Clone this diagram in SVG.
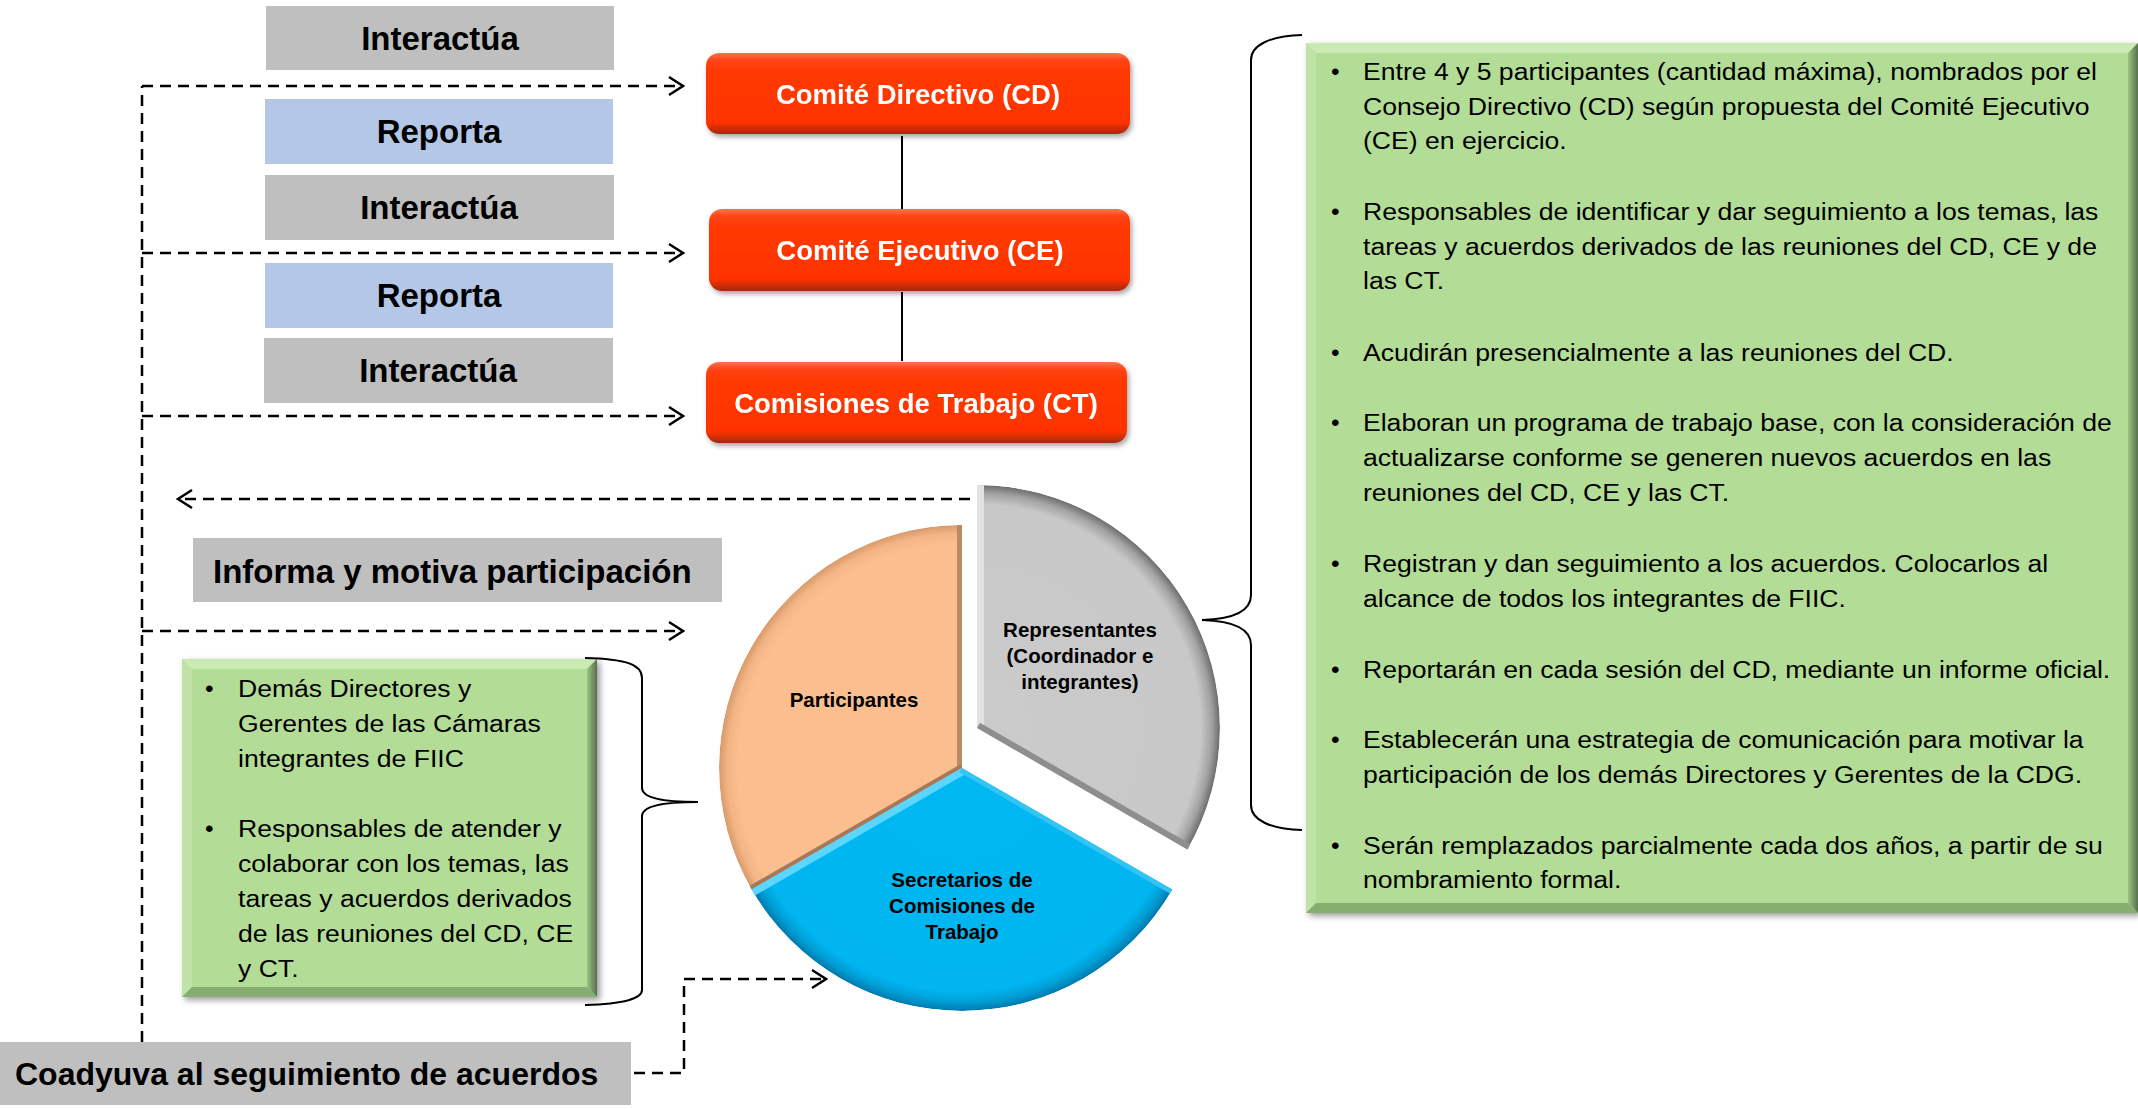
<svg xmlns="http://www.w3.org/2000/svg" width="2138" height="1109" viewBox="0 0 2138 1109">
<defs>
<style>
.lbl{font-family:"Liberation Sans",Arial,sans-serif;font-weight:bold;font-size:33px;fill:#000;text-anchor:middle}
.lbls{font-family:"Liberation Sans",Arial,sans-serif;font-weight:bold;font-size:33px;fill:#000}
.gray{fill:#BFBFBF}
.blue{fill:#B4C7E7}
.redt{font-family:"Liberation Sans",Arial,sans-serif;font-weight:bold;font-size:27.5px;fill:#fff;text-anchor:middle}
.body{font-family:"Liberation Sans",Arial,sans-serif;font-size:24.5px;fill:#000}
.piet{font-family:"Liberation Sans",Arial,sans-serif;font-weight:bold;font-size:20.5px;fill:#000;text-anchor:middle}
.dash{fill:none;stroke:#000;stroke-width:2.5;stroke-dasharray:11 7}
.solid{fill:none;stroke:#000;stroke-width:2}
.brace{fill:none;stroke:#000;stroke-width:2}
.gbase{fill:#B3DC97}
.gtop{fill:#CBEBB5}
.gleft{fill:#BFE3A7}
.gbot{fill:#86AE70}
</style>
<marker id="chev" markerUnits="userSpaceOnUse" viewBox="0 0 18 22" refX="16" refY="11" markerWidth="18" markerHeight="22" orient="auto">
<path d="M2,2 L16,11 L2,20" fill="none" stroke="#000" stroke-width="2.5"/>
</marker>
<linearGradient id="redg" x1="0" y1="0" x2="0" y2="1">
<stop offset="0" stop-color="#FF7350"/>
<stop offset="0.09" stop-color="#FF4415"/>
<stop offset="0.2" stop-color="#FF3A06"/>
<stop offset="0.85" stop-color="#FF3300"/>
<stop offset="0.93" stop-color="#D42C06"/>
<stop offset="1" stop-color="#A0290F"/>
</linearGradient>
<linearGradient id="gright" x1="0" y1="0" x2="1" y2="0">
<stop offset="0" stop-color="#9BC483"/>
<stop offset="1" stop-color="#5A6E4E"/>
</linearGradient>
<filter id="sh" x="-5%" y="-10%" width="112%" height="130%">
<feDropShadow dx="2" dy="3" stdDeviation="2.5" flood-color="#000" flood-opacity="0.35"/>
</filter>
<filter id="gsh" x="-5%" y="-5%" width="112%" height="112%">
<feDropShadow dx="3" dy="3" stdDeviation="3" flood-color="#000" flood-opacity="0.4"/>
</filter>
<radialGradient id="rgO" gradientUnits="userSpaceOnUse" cx="962" cy="768" r="243">
<stop offset="0" stop-color="#FBBF8F"/>
<stop offset="0.92" stop-color="#FBBE8E"/>
<stop offset="0.965" stop-color="#F3B585"/>
<stop offset="1" stop-color="#D9996A"/>
</radialGradient>
<radialGradient id="rgB" gradientUnits="userSpaceOnUse" cx="962" cy="768" r="243">
<stop offset="0" stop-color="#00B8F2"/>
<stop offset="0.92" stop-color="#00B5F0"/>
<stop offset="0.965" stop-color="#009DD4"/>
<stop offset="1" stop-color="#0079AD"/>
</radialGradient>
<radialGradient id="rgG" gradientUnits="userSpaceOnUse" cx="977" cy="728" r="243">
<stop offset="0" stop-color="#CBCBCB"/>
<stop offset="0.92" stop-color="#C8C8C8"/>
<stop offset="0.965" stop-color="#A3A3A3"/>
<stop offset="1" stop-color="#6C6C6C"/>
</radialGradient>
<clipPath id="cpO"><path d="M962,768 L962,525 A243,243 0 0,0 751.6,889.5 Z"/></clipPath>
<clipPath id="cpB"><path d="M962,768 L1172.4,889.5 A243,243 0 0,1 751.6,889.5 Z"/></clipPath>
<clipPath id="cpG"><path d="M977,728 L977,485 A243,243 0 0,1 1187.4,849.5 Z"/></clipPath>
</defs>

<rect width="2138" height="1109" fill="#fff"/>

<!-- connectors -->
<g id="connectors">
<path class="dash" d="M142,1042 L142,86"/>
<path class="dash" d="M142,86 L683,86" marker-end="url(#chev)"/>
<path class="dash" d="M142,253 L683,253" marker-end="url(#chev)"/>
<path class="dash" d="M142,416 L683,416" marker-end="url(#chev)"/>
<path class="dash" d="M142,631 L683,631" marker-end="url(#chev)"/>
<path class="dash" d="M970,499 L178,499" marker-end="url(#chev)"/>
<path class="dash" d="M634,1073 L684,1073 L684,979 L826,979" marker-end="url(#chev)"/>
<path class="solid" d="M902,136 L902,209"/>
<path class="solid" d="M902,292 L902,361"/>
</g>

<!-- relation labels -->
<g id="lbl-interactua-1"><rect class="gray" x="266" y="6" width="348" height="64"/><text class="lbl" x="440" y="50">Interactúa</text></g>
<g id="lbl-reporta-1"><rect class="blue" x="265" y="99" width="348" height="65"/><text class="lbl" x="439" y="143">Reporta</text></g>
<g id="lbl-interactua-2"><rect class="gray" x="265" y="175" width="349" height="65"/><text class="lbl" x="439" y="219">Interactúa</text></g>
<g id="lbl-reporta-2"><rect class="blue" x="265" y="263" width="348" height="65"/><text class="lbl" x="439" y="307">Reporta</text></g>
<g id="lbl-interactua-3"><rect class="gray" x="264" y="338" width="349" height="65"/><text class="lbl" x="438" y="382">Interactúa</text></g>
<g id="lbl-informa"><rect class="gray" x="193" y="538" width="529" height="64"/><text class="lbls" x="213" y="583">Informa y motiva participación</text></g>
<g id="lbl-coadyuva"><rect class="gray" x="0" y="1042" width="631" height="63"/><text class="lbls" x="15" y="1085" style="font-size:32px">Coadyuva al seguimiento de acuerdos</text></g>

<!-- red nodes -->
<g id="node-cd" filter="url(#sh)"><rect x="706" y="53" width="424" height="81" rx="13" fill="url(#redg)"/><text class="redt" x="918" y="104">Comité Directivo (CD)</text></g>
<g id="node-ce" filter="url(#sh)"><rect x="709" y="209" width="421" height="82" rx="13" fill="url(#redg)"/><text class="redt" x="920" y="260">Comité Ejecutivo (CE)</text></g>
<g id="node-ct" filter="url(#sh)"><rect x="706" y="362" width="421" height="81" rx="13" fill="url(#redg)"/><text class="redt" x="916" y="413">Comisiones de Trabajo (CT)</text></g>

<!-- pie -->
<g id="slice-participantes">
<g clip-path="url(#cpO)">
<path d="M962,768 L962,525 A243,243 0 0,0 751.6,889.5 Z" fill="url(#rgO)"/>
<line x1="962" y1="768" x2="962" y2="520" stroke="#B88A66" stroke-width="10"/>
<line x1="962" y1="768" x2="747" y2="892" stroke="#A57A5A" stroke-width="8"/>
</g>
<text class="piet" x="854" y="707">Participantes</text>
</g>
<g id="slice-secretarios">
<g clip-path="url(#cpB)">
<path d="M962,768 L1172.4,889.5 A243,243 0 0,1 751.6,889.5 Z" fill="url(#rgB)"/>
<line x1="962" y1="768" x2="747" y2="892" stroke="#5AD6FF" stroke-width="14"/>
<line x1="962" y1="768" x2="1177" y2="892" stroke="#33C4F4" stroke-width="10"/>
</g>
<text class="piet" x="962" y="887">Secretarios de</text>
<text class="piet" x="962" y="913">Comisiones de</text>
<text class="piet" x="962" y="939">Trabajo</text>
</g>
<g id="slice-representantes">
<g clip-path="url(#cpG)">
<path d="M977,728 L977,485 A243,243 0 0,1 1187.4,849.5 Z" fill="url(#rgG)"/>
<line x1="977" y1="728" x2="977" y2="480" stroke="#E2E2E2" stroke-width="14"/>
<line x1="977" y1="728" x2="1192" y2="852" stroke="#8E8E8E" stroke-width="12"/>
</g>
<text class="piet" x="1080" y="637">Representantes</text>
<text class="piet" x="1080" y="663">(Coordinador e</text>
<text class="piet" x="1080" y="689">integrantes)</text>
</g>

<!-- left green box -->
<g id="box-participantes">
<g filter="url(#gsh)">
<rect class="gbase" x="182" y="659" width="415" height="338"/>
<polygon class="gtop" points="182,659 597,659 587,669 192,669"/>
<polygon class="gleft" points="182,659 192,669 192,987 182,997"/>
<polygon fill="url(#gright)" points="597,659 597,997 587,987 587,669"/>
<polygon class="gbot" points="182,997 597,997 587,987 192,987"/>
</g>
<g class="body">
<text x="205" y="697">•</text>
<text x="205" y="837">•</text>
</g>
<g class="body" transform="translate(238,0) scale(1.085,1)">
<text x="0" y="697">Demás Directores y</text>
<text x="0" y="732">Gerentes de las Cámaras</text>
<text x="0" y="767">integrantes de FIIC</text>
<text x="0" y="837">Responsables de atender y</text>
<text x="0" y="872">colaborar con los temas, las</text>
<text x="0" y="907">tareas y acuerdos derivados</text>
<text x="0" y="942">de las reuniones del CD, CE</text>
<text x="0" y="977">y CT.</text>
</g>
</g>

<!-- right green box -->
<g id="box-representantes">
<g filter="url(#gsh)">
<rect class="gbase" x="1306" y="43" width="832" height="870"/>
<polygon class="gtop" points="1306,43 2138,43 2128,53 1316,53"/>
<polygon class="gleft" points="1306,43 1316,53 1316,903 1306,913"/>
<polygon fill="url(#gright)" points="2138,43 2138,913 2128,903 2128,53"/>
<polygon class="gbot" points="1306,913 2138,913 2128,903 1316,903"/>
</g>
<g class="body">
<text x="1331" y="80">•</text>
<text x="1331" y="220">•</text>
<text x="1331" y="361">•</text>
<text x="1331" y="431">•</text>
<text x="1331" y="572">•</text>
<text x="1331" y="678">•</text>
<text x="1331" y="748">•</text>
<text x="1331" y="854">•</text>
</g>
<g class="body" transform="translate(1363,0) scale(1.085,1)">
<text x="0" y="80">Entre 4 y 5 participantes (cantidad máxima), nombrados por el</text>
<text x="0" y="115">Consejo Directivo (CD) según propuesta del Comité Ejecutivo</text>
<text x="0" y="149">(CE) en ejercicio.</text>
<text x="0" y="220">Responsables de identificar y dar seguimiento a los temas, las</text>
<text x="0" y="255">tareas y acuerdos derivados de las reuniones del CD, CE y de</text>
<text x="0" y="289">las CT.</text>
<text x="0" y="361">Acudirán presencialmente a las reuniones del CD.</text>
<text x="0" y="431">Elaboran un programa de trabajo base, con la consideración de</text>
<text x="0" y="466">actualizarse conforme se generen nuevos acuerdos en las</text>
<text x="0" y="501">reuniones del CD, CE y las CT.</text>
<text x="0" y="572">Registran y dan seguimiento a los acuerdos. Colocarlos al</text>
<text x="0" y="607">alcance de todos los integrantes de FIIC.</text>
<text x="0" y="678">Reportarán en cada sesión del CD, mediante un informe oficial.</text>
<text x="0" y="748">Establecerán una estrategia de comunicación para motivar la</text>
<text x="0" y="783">participación de los demás Directores y Gerentes de la CDG.</text>
<text x="0" y="854">Serán remplazados parcialmente cada dos años, a partir de su</text>
<text x="0" y="888">nombramiento formal.</text>
</g>
</g>

<!-- braces -->
<g id="braces">
<path class="brace" d="M1302,35 C1270,36 1251,45 1251,60 L1251,595 C1251,610 1235,619 1202,620 C1235,621 1251,630 1251,645 L1251,805 C1251,820 1270,829 1302,830"/>
<path class="brace" d="M585,658 C625,659 642,664 642,678 L642,788 C642,797 660,802 698,802 C660,802 642,807 642,816 L642,990 C642,998 625,1004 585,1005"/>
</g>
</svg>
